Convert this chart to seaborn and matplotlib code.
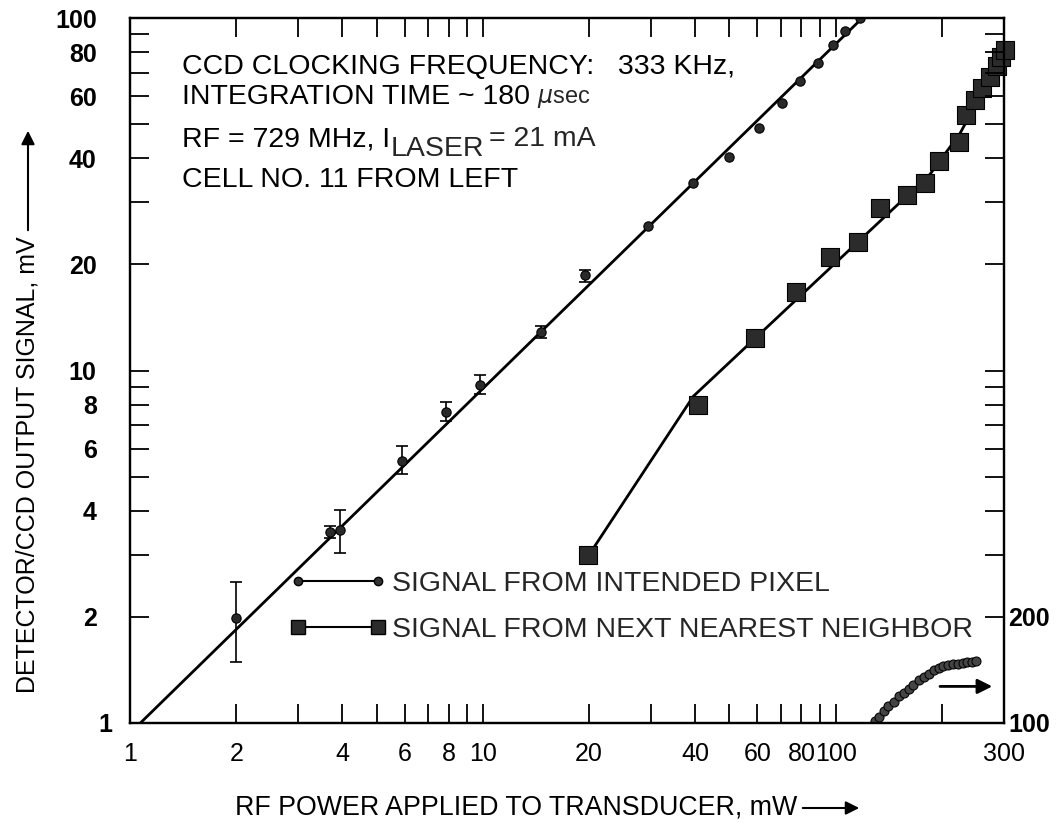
import numpy as np
import pandas as pd
import matplotlib
matplotlib.use("Agg")
import matplotlib.pyplot as plt
import seaborn as sns
from matplotlib.lines import Line2D
from matplotlib.ticker import FixedLocator, FixedFormatter, NullFormatter
from matplotlib.legend_handler import HandlerLine2D
from matplotlib.transforms import ScaledTranslation

# ---------------- data ----------------
intended_x = [2.0, 3.7, 3.95, 5.9, 7.85, 9.8, 14.6, 19.5, 29.4, 39.3, 50.0, 60.8,
              70.3, 79.0, 89.0, 98.0, 106.0, 117.0]
intended_y = [1.99, 3.48, 3.52, 5.54, 7.64, 9.12, 12.9, 18.7, 25.7, 34.1, 40.4, 48.9,
              57.3, 66.1, 74.5, 83.8, 91.8, 100.0]
err_x = [2.0, 3.7, 3.95, 5.9, 7.85, 9.8, 14.6, 19.5]
err_y = [1.99, 3.48, 3.52, 5.54, 7.64, 9.12, 12.9, 18.7]
err_lo = [1.49, 3.35, 3.03, 5.09, 7.2, 8.6, 12.4, 17.8]
err_hi = [2.51, 3.62, 4.02, 6.11, 8.16, 9.74, 13.4, 19.3]
fit_x = [1.07, 119.0]
fit_y = [1.0, 100.0]

neighbor_x = [19.9, 40.7, 59.1, 77.3, 96.4, 115.7, 133.6, 159, 179, 196, 224, 234,
              248, 260, 274, 286, 295, 302]
neighbor_y = [3.0, 7.98, 12.4, 16.7, 21.0, 23.2, 28.9, 31.5, 34.1, 39.4, 44.6, 53.2,
              58.4, 63.1, 67.9, 73.0, 77.4, 81.0]
neighbor_fit_x = [20.0, 39.5, 185.0, 225.0, 300.0]
neighbor_fit_y = [3.0, 8.45, 36.0, 47.0, 80.0]

small_x = [129, 133, 137, 141, 146, 151, 156, 161, 166, 172, 178, 184, 190, 196, 202,
           208, 215, 222, 229, 236, 243, 250]
small_y = [101, 104, 108, 112, 115, 119, 122, 125, 128, 132, 135, 138, 141, 143, 145,
           146, 147, 147.5, 148, 148.5, 149, 149.5]
arrow_x = [194, 283]
arrow_y = 127

x_label_vals = [1, 2, 4, 6, 8, 10, 20, 40, 60, 80, 100, 300]
x_labels = ["1", "2", "4", "6", "8", "10", "20", "40", "60", "80", "100", "300"]
x_minor_vals = [3, 5, 7, 9, 30, 50, 70, 90, 200]
y_label_vals = [1, 2, 4, 6, 8, 10, 20, 40, 60, 80, 100]
y_labels = ["1", "2", "4", "6", "8", "10", "20", "40", "60", "80", "100"]
y_minor_vals = [3, 5, 7, 9, 30, 50, 70, 90]
y2_label_vals = [100, 200]
y2_labels = ["100", "200"]
y2_minor_vals = [300, 400, 500, 600, 700, 800, 900, 1000, 2000, 3000, 4000, 5000,
                 6000, 7000, 8000, 9000]

legend_labels = ["SIGNAL FROM INTENDED PIXEL", "SIGNAL FROM NEXT NEAREST NEIGHBOR"]

# ---------------- style ----------------
sns.set_theme(style="ticks")
plt.rcParams["font.family"] = ["Liberation Sans", "DejaVu Sans"]
plt.rcParams["axes.linewidth"] = 1.6

W, H = 1063, 827
fig = plt.figure(figsize=(W / 100, H / 100), dpi=100)
ax = fig.add_axes([130 / W, 104 / H, 874 / W, 705 / H])
ax.set_xscale("log")
ax.set_yscale("log")
ax.set_xlim(1, 300)
ax.set_ylim(1, 100)

FS = 18      # tick labels
FT = 20.5    # annotation / legend text

# fitted line for intended pixel
sns.lineplot(x=fit_x, y=fit_y, ax=ax, color="black", lw=2.0, sort=False, estimator=None)
# error bars
ax.errorbar(err_x, err_y,
            yerr=[np.array(err_y) - np.array(err_lo), np.array(err_hi) - np.array(err_y)],
            fmt="none", ecolor="black", elinewidth=1.2, capsize=4, capthick=1.2)
sns.scatterplot(x=intended_x, y=intended_y, ax=ax, marker="o", s=45, color="#2a2a2a",
                edgecolor="black", linewidth=0.8, zorder=4)

# neighbor
sns.lineplot(x=neighbor_fit_x, y=neighbor_fit_y, ax=ax, color="black", lw=2.0,
             sort=False, estimator=None)
sns.scatterplot(x=neighbor_x, y=neighbor_y, ax=ax, marker="s", s=150, color="#2b2b2b",
                edgecolor="black", linewidth=0.8, zorder=5, clip_on=False)

# ticks
ax.xaxis.set_major_locator(FixedLocator(x_label_vals))
ax.xaxis.set_major_formatter(FixedFormatter(x_labels))
ax.xaxis.set_minor_locator(FixedLocator(x_minor_vals))
ax.xaxis.set_minor_formatter(NullFormatter())
ax.yaxis.set_major_locator(FixedLocator(y_label_vals))
ax.yaxis.set_major_formatter(FixedFormatter(y_labels))
ax.yaxis.set_minor_locator(FixedLocator(y_minor_vals))
ax.yaxis.set_minor_formatter(NullFormatter())
ax.tick_params(axis="both", which="both", direction="in", length=14, width=1.3,
               top=True, right=False, colors="black")
ax.tick_params(axis="x", which="major", labelsize=FS, pad=14)
ax.tick_params(axis="y", which="major", labelsize=FS, pad=24)
for lab in ax.get_yticklabels():
    lab.set_fontweight("bold")
for s in ax.spines.values():
    s.set_color("black")
    s.set_linewidth(1.6)
ax.set_xlabel("")
ax.set_ylabel("")
# the "1" on the y axis sits closer to the spine in the original
t0 = ax.yaxis.get_major_ticks()[0]
t0.label1.set_transform(t0.label1.get_transform() +
                        ScaledTranslation(0.16, 0, fig.dpi_scale_trans))

# secondary axis
ax2 = ax.twinx()
ax2.set_yscale("log")
ax2.set_ylim(100, 10000)
sns.lineplot(x=small_x, y=small_y, ax=ax2, color="#222222", lw=2.0, marker="o",
             markersize=6.5, markeredgecolor="black", markerfacecolor="#444444",
             sort=False, estimator=None)
ax2.yaxis.set_major_locator(FixedLocator(y2_label_vals))
ax2.yaxis.set_major_formatter(FixedFormatter(y2_labels))
ax2.yaxis.set_minor_locator(FixedLocator(y2_minor_vals))
ax2.yaxis.set_minor_formatter(NullFormatter())
ax2.tick_params(axis="y", which="both", direction="in", length=14, width=1.3,
                labelsize=FS, pad=3, colors="black")
for lab in ax2.get_yticklabels():
    lab.set_fontweight("bold")
for s in ax2.spines.values():
    s.set_color("black")
    s.set_linewidth(1.6)
ax2.set_ylabel("")
ax2.set_xlim(1, 300)
ax2.annotate("", xy=(arrow_x[1], arrow_y), xytext=(arrow_x[0], arrow_y),
             xycoords="data", textcoords="data",
             arrowprops=dict(arrowstyle="-|>", color="black", lw=2.0, mutation_scale=22))

# legend
h1 = Line2D([], [], color="black", lw=1.5, marker="o", ms=6, mfc="#333333", mec="black")
h2 = Line2D([], [], color="black", lw=1.5, marker="s", ms=10.5, mfc="#2b2b2b", mec="black")
ax2.legend([h1, h2], legend_labels, loc="upper left", bbox_to_anchor=(0.192, 0.2156),
           frameon=False, numpoints=2, handlelength=2.8, handletextpad=0.5,
           borderpad=0, borderaxespad=0, labelspacing=0.7, fontsize=FT,
           handler_map={Line2D: HandlerLine2D(marker_pad=0)})

# annotation text block
tx = 0.0595
ax.text(tx, 0.930, "CCD CLOCKING FREQUENCY:   333 KHz,", transform=ax.transAxes,
        va="center", ha="left", fontsize=FT, color="black")
t2 = ax.text(tx, 0.888, "INTEGRATION TIME ~ 180", transform=ax.transAxes,
             va="center", ha="left", fontsize=FT, color="black")
ax.annotate(r"$\mu$sec", xy=(1, 0), xycoords=t2, xytext=(5, 0),
            textcoords="offset points", va="bottom", ha="left", fontsize=17)
t3 = ax.text(tx, 0.828, "RF = 729 MHz, I", transform=ax.transAxes,
             va="center", ha="left", fontsize=FT, color="black")
t_laser = ax.annotate("LASER", xy=(1, 0), xycoords=t3, xytext=(0, -3),
                      textcoords="offset points", va="baseline", ha="left", fontsize=FT)
ax.annotate("= 21 mA", xy=(1, 0), xycoords=(t_laser, t3), xytext=(4, 0),
            textcoords="offset points", va="bottom", ha="left", fontsize=FT)
ax.text(tx, 0.770, "CELL NO. 11 FROM LEFT", transform=ax.transAxes,
        va="center", ha="left", fontsize=FT, color="black")

# axis labels with arrows
fig.text(797 / W, 1 - 808 / H, "RF POWER APPLIED TO TRANSDUCER, mW", ha="right",
         va="center", fontsize=19.3, color="black")
fig.add_artist(matplotlib.patches.FancyArrowPatch(
    (800 / W, 1 - 808 / H), (862 / W, 1 - 808 / H), transform=fig.transFigure,
    arrowstyle="-|>", mutation_scale=20, color="black", lw=1.5))
fig.text(28 / W, 1 - 236 / H, "DETECTOR/CCD OUTPUT SIGNAL, mV", ha="center",
         va="top", rotation=90, fontsize=18, color="black")
fig.add_artist(matplotlib.patches.FancyArrowPatch(
    (28 / W, 1 - 233 / H), (28 / W, 1 - 128 / H), transform=fig.transFigure,
    arrowstyle="-|>", mutation_scale=20, color="black", lw=1.5))

fig.savefig("out.png", dpi=100, facecolor="white")
